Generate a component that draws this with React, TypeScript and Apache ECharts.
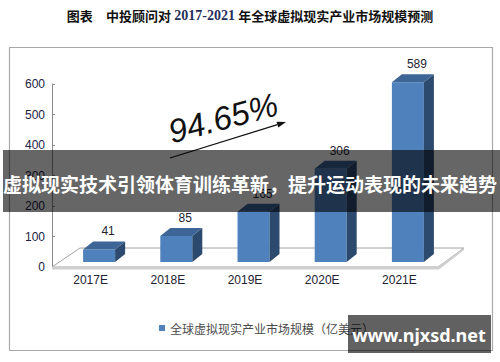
import React, { useEffect, useRef } from "react";
import * as echarts from "echarts";

const categories = ["2017E", "2018E", "2019E", "2020E", "2021E"];
const marketSize = [41, 85, 165, 306, 589];
const seriesName = "全球虚拟现实产业市场规模（亿美元）";
const growthText = "94.65%";
const yMin = 0;
const yMax = 600;
const yInterval = 100;

// layout constants
const G_LEFT = 52;
const G_TOP = 84;
const G_BOTTOM_Y = 267;
const G_RIGHT_X = 438;
const DEPTH_X = 26;
const DEPTH_Y = -19;

export default function App() {
  const ref = useRef<HTMLDivElement>(null);
  useEffect(() => {
    if (!ref.current) return;
    const chart = echarts.init(ref.current, null, { renderer: "svg" });
    const bw = 32, dx = 10, dy = -8, sx = 8.5, sy = -5;
    const ux = 115 / 120.5, uy = -36 / 120.5;
    const T = [286, 122];
    const B = [T[0] - 9 * ux, T[1] - 9 * uy];
    const nx = -uy, ny = ux;
    const option: any = {
      animation: false,
      backgroundColor: "#ffffff",
      grid: {
        left: G_LEFT,
        top: G_TOP,
        right: 500 - G_RIGHT_X,
        bottom: 362 - G_BOTTOM_Y,
        containLabel: false,
      },
      legend: {
        data: [seriesName],
        left: 154,
        top: 317,
        icon: "rect",
        itemWidth: 6,
        itemHeight: 6,
        itemGap: 5,
        textStyle: { fontSize: 12, color: "#4a4a4a", fontFamily: "Noto Sans CJK SC" },
      },
      xAxis: {
        type: "category",
        data: categories,
        axisLine: { show: false },
        axisTick: { show: false },
        axisLabel: { margin: 7, fontSize: 12, color: "#222233", fontFamily: "Liberation Sans" },
      },
      yAxis: {
        type: "value",
        min: yMin,
        max: yMax,
        interval: yInterval,
        splitLine: { show: false },
        axisLine: { show: true, lineStyle: { color: "#8a8a8a", width: 1 } },
        axisTick: { show: true, inside: true, length: 3, lineStyle: { color: "#8a8a8a" } },
        axisLabel: { margin: 7, fontSize: 12, color: "#222244", fontFamily: "Liberation Sans" },
      },
      series: [
        {
          name: seriesName,
          type: "custom",
          itemStyle: { color: "#4f81bd" },
          data: marketSize.map((v, i) => [i, v]),
          encode: { x: 0, y: 1 },
          z: 5,
          renderItem: (params: any, api: any) => {
            const i = api.value(0);
            const v = api.value(1);
            const top = api.coord([i, v]);
            const base = api.coord([i, 0]);
            const cx = top[0] + sx;
            const x0 = cx - bw / 2, x1 = cx + bw / 2;
            const yT = top[1] + sy, yB = base[1] + sy;
            return {
              type: "group",
              children: [
                { type: "polygon", shape: { points: [[x0, yT], [x1, yT], [x1, yB], [x0, yB]] }, style: { fill: "#4f81bd" } },
                { type: "polygon", shape: { points: [[x1, yT], [x1 + dx, yT + dy], [x1 + dx, yB + dy], [x1, yB]] }, style: { fill: "#2c4a6e" } },
                { type: "polygon", shape: { points: [[x0, yT], [x0 + dx, yT + dy], [x1 + dx, yT + dy], [x1, yT]] }, style: { fill: "#3d6596" } },
                {
                  type: "text",
                  style: {
                    text: String(v),
                    x: cx + 9,
                    y: yT + dy - 10,
                    align: "center",
                    verticalAlign: "middle",
                    fontSize: 12,
                    fill: "#222233",
                    fontFamily: "Liberation Sans",
                  },
                },
              ],
            };
          },
        },
      ],
      graphic: [
        // chart border
        { type: "rect", z: 0, shape: { x: 9.5, y: 47.5, width: 483, height: 303 }, style: { fill: "none", stroke: "#a8a8a8", lineWidth: 1.2 } },
        // floor
        {
          type: "polygon", z: 1,
          shape: { points: [[G_LEFT, G_BOTTOM_Y], [G_RIGHT_X, G_BOTTOM_Y], [G_RIGHT_X + DEPTH_X, G_BOTTOM_Y + DEPTH_Y], [G_LEFT + 28, G_BOTTOM_Y + DEPTH_Y]] },
          style: { fill: "#ffffff", stroke: "#8c8c8c", lineWidth: 0.8 },
        },
        {
          type: "polygon", z: 1,
          shape: { points: [[G_LEFT, G_BOTTOM_Y - 0.5], [G_RIGHT_X, G_BOTTOM_Y - 0.5], [G_RIGHT_X + DEPTH_X, G_BOTTOM_Y + DEPTH_Y], [G_RIGHT_X + DEPTH_X, G_BOTTOM_Y + DEPTH_Y + 2], [G_RIGHT_X + 1, G_BOTTOM_Y + 2.5], [G_LEFT, G_BOTTOM_Y + 2.5]] },
          style: { fill: "#cfcfcf" },
        },
        // growth text
        {
          type: "text", z: 50, x: 223, y: 118, rotation: (15 * Math.PI) / 180,
          style: { text: growthText, align: "center", verticalAlign: "middle", fontSize: 33, fontStyle: "italic", fill: "#111111", fontFamily: "Liberation Sans" },
        },
        { type: "line", z: 50, shape: { x1: 170, y1: 158, x2: B[0], y2: B[1] }, style: { stroke: "#111111", lineWidth: 1.3 } },
        {
          type: "polygon", z: 50,
          shape: { points: [T, [B[0] + 3 * nx, B[1] + 3 * ny], [B[0] - 3 * nx, B[1] - 3 * ny]] },
          style: { fill: "#111111" },
        },
        // title
        {
          type: "text", z: 50, x: 250, y: 15,
          style: {
            text: "{a|图表}    {a|中投顾问对} {b|2017-2021} {a|年全球虚拟现实产业市场规模预测}",
            align: "center",
            verticalAlign: "middle",
            rich: {
              a: { fontSize: 13, fontWeight: "bold", fill: "#111111", fontFamily: "Noto Sans CJK SC" },
              b: { fontSize: 14, fontWeight: "bold", fill: "#1f2f5a", fontFamily: "Liberation Serif" },
            },
          },
        },
        // overlay band
        { type: "rect", z: 100, shape: { x: 3, y: 150, width: 497, height: 62 }, style: { fill: "rgba(0,0,0,0.6)" } },
        {
          type: "text", z: 101, x: 250, y: 183,
          style: { text: "虚拟现实技术引领体育训练革新，提升运动表现的未来趋势", align: "center", verticalAlign: "middle", fontSize: 19, fontWeight: "bold", fill: "#ffffff", fontFamily: "Noto Sans CJK SC" },
        },
        // watermark
        { type: "rect", z: 100, shape: { x: 348, y: 315, width: 143, height: 38 }, style: { fill: "rgba(0,0,0,0.62)" } },
        {
          type: "text", z: 101, x: 419, y: 335,
          style: { text: "www.njxsd.net", align: "center", verticalAlign: "middle", fontSize: 18, fontWeight: "bold", fill: "#ffffff", fontFamily: "Noto Sans" },
        },
      ],
    };
    chart.setOption(option);
    return () => chart.dispose();
  }, []);
  return <div ref={ref} style={{ position: "fixed", left: 0, top: 0, width: 500, height: 362 }} />;
}
